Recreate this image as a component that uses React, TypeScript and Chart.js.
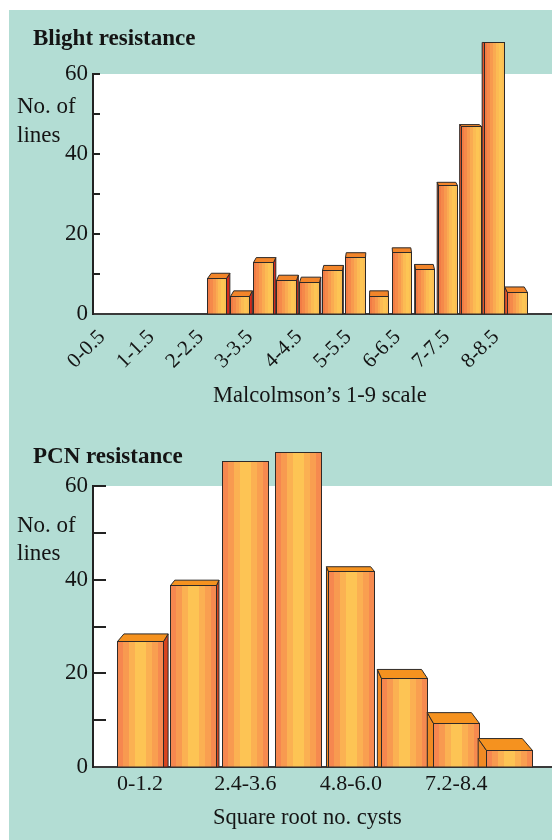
import React, { useEffect, useRef } from "react";
import { Chart, registerables } from "chart.js";

Chart.register(...registerables);

// ---------- data ----------
const blightCategories = [
  "0-0.5", "0.5-1", "1-1.5", "1.5-2", "2-2.5", "2.5-3", "3-3.5", "3.5-4", "4-4.5",
  "4.5-5", "5-5.5", "5.5-6", "6-6.5", "6.5-7", "7-7.5", "7.5-8", "8-8.5", "8.5-9",
];
const blightValues = [0, 0, 0, 0, 9, 4.5, 13, 8.5, 8, 11, 14.2, 4.5, 15.6, 11.2, 32.3, 47, 68, 5.6];
const blightTickLabels = ["0-0.5", "1-1.5", "2-2.5", "3-3.5", "4-4.5", "5-5.5", "6-6.5", "7-7.5", "8-8.5"];

const pcnCategories = ["0-1.2", "1.2-2.4", "2.4-3.6", "3.6-4.8", "4.8-6.0", "6.0-7.2", "7.2-8.4", "8.4-9.6"];
const pcnValues = [27, 38.8, 65.4, 67.3, 41.9, 19.1, 9.4, 3.6];
const pcnTickLabels = ["0-1.2", "", "2.4-3.6", "", "4.8-6.0", "", "7.2-8.4", ""];

const yTickValues = [0, 10, 20, 30, 40, 50, 60];
const yLabelValues = [0, 20, 40, 60];

const FONT = '"Liberation Serif", "Times New Roman", serif';
const INK = "#141414";

type Deco = {
  values: number[];
  title: string;
  titleY: number;
  ylab1Y: number;
  ylab2Y: number;
  xTitle: string;
  xTitleY: number;
  tickLen: number;
  vp: { x: number; y: number };
  k: number;
  stripes: string[];
  cap: string;
  sideRight: string;
  sideLeft: string;
};

function drawBar3D(ctx: CanvasRenderingContext2D, x: number, w: number, top: number, base: number, d: Deco) {
  const left = Math.round(x - w / 2) + 0.5;
  const right = Math.round(x + w / 2) + 0.5;
  const t = Math.round(top) + 0.5;
  const b = Math.round(base);
  const dxL = d.k * (d.vp.x - left);
  const dxR = d.k * (d.vp.x - right);
  const dyT = d.k * (d.vp.y - t);
  ctx.save();
  ctx.lineWidth = 1;
  ctx.strokeStyle = "#2e2a28";
  ctx.lineJoin = "miter";
  if (dxR > 0.6) {
    ctx.beginPath();
    ctx.moveTo(right, t);
    ctx.lineTo(right + dxR, t + dyT);
    ctx.lineTo(right + dxR, b);
    ctx.lineTo(right, b);
    ctx.closePath();
    ctx.fillStyle = d.sideRight;
    ctx.fill();
    ctx.stroke();
  }
  if (dxL < -0.6) {
    ctx.beginPath();
    ctx.moveTo(left, t);
    ctx.lineTo(left + dxL, t + dyT);
    ctx.lineTo(left + dxL, b);
    ctx.lineTo(left, b);
    ctx.closePath();
    ctx.fillStyle = d.sideLeft;
    ctx.fill();
    ctx.stroke();
  }
  if (dyT < -0.6) {
    ctx.beginPath();
    ctx.moveTo(left, t);
    ctx.lineTo(left + dxL, t + dyT);
    ctx.lineTo(right + dxR, t + dyT);
    ctx.lineTo(right, t);
    ctx.closePath();
    ctx.fillStyle = d.cap;
    ctx.fill();
    ctx.stroke();
  }
  const g = ctx.createLinearGradient(left, 0, right, 0);
  const n = d.stripes.length;
  d.stripes.forEach((c, i) => {
    g.addColorStop(i / n, c);
    g.addColorStop(Math.min(1, (i + 1) / n - 0.0001), c);
  });
  ctx.fillStyle = g;
  ctx.fillRect(left, t, right - left, b - t);
  ctx.strokeRect(left, t, right - left, b - t);
  ctx.restore();
}

function decoPlugin(d: Deco) {
  return {
    id: "deco",
    beforeDraw(chart: any) {
      const { ctx, chartArea: a } = chart;
      ctx.save();
      ctx.fillStyle = "#ffffff";
      ctx.fillRect(a.left, a.top, a.right - a.left, a.bottom - a.top);
      ctx.restore();
    },
    afterDatasetsDraw(chart: any) {
      const { ctx, chartArea: a } = chart;
      const ys = chart.scales.y;
      ctx.save();
      ctx.strokeStyle = "#222";
      ctx.lineWidth = 2;
      yTickValues.forEach((v) => {
        if (v === 0) return;
        const py = Math.round(ys.getPixelForValue(v));
        ctx.beginPath();
        ctx.moveTo(a.left, py);
        ctx.lineTo(a.left + d.tickLen, py);
        ctx.stroke();
      });
      ctx.restore();
      const meta = chart.getDatasetMeta(0);
      meta.data.forEach((el: any, i: number) => {
        if (!d.values[i]) return;
        const p = el.getProps(["x", "y", "base", "width"], true);
        drawBar3D(ctx, p.x, p.width, p.y, p.base, d);
      });
    },
    afterDraw(chart: any) {
      const ctx = chart.ctx;
      ctx.save();
      ctx.fillStyle = INK;
      ctx.textBaseline = "alphabetic";
      ctx.textAlign = "left";
      ctx.font = `bold 23px ${FONT}`;
      ctx.fillText(d.title, 25, d.titleY);
      ctx.font = `23px ${FONT}`;
      ctx.fillText("No. of", 9, d.ylab1Y);
      ctx.fillText("lines", 9, d.ylab2Y);
      ctx.font = `22.5px ${FONT}`;
      ctx.fillText(d.xTitle, 205, d.xTitleY);
      ctx.restore();
    },
  };
}

function yScale() {
  return {
    type: "linear",
    min: 0,
    max: 60,
    afterBuildTicks: (s: any) => {
      s.ticks = yTickValues.map((v) => ({ value: v }));
    },
    afterFit: (s: any) => {
      s.width = 85;
    },
    ticks: {
      autoSkip: false,
      padding: 5,
      color: INK,
      font: { family: FONT, size: 23 },
      callback: (v: number) => (yLabelValues.includes(v) ? String(v) : ""),
    },
    grid: { display: false, drawTicks: false },
    border: { display: true, color: "#222", width: 2 },
  };
}

function blightConfig(): any {
  const deco: Deco = {
    values: blightValues,
    title: "Blight resistance",
    titleY: 37,
    ylab1Y: 105,
    ylab2Y: 134,
    xTitle: "Malcolmson\u2019s 1-9 scale",
    xTitleY: 394,
    tickLen: 7,
    vp: { x: 371, y: 32 },
    k: 0.022,
    stripes: ["#f27c45", "#f5894a", "#f89a4e", "#faab51", "#fcbb53", "#fdc554", "#fcbf53"],
    cap: "#f2852a",
    sideRight: "#d32a1d",
    sideLeft: "#e2552a",
  };
  return {
    type: "bar",
    data: {
      labels: blightCategories,
      datasets: [
        {
          data: blightValues.map((v, i) => ({ x: i, y: v })),
          xAxisID: "x",
          yAxisID: "y",
          backgroundColor: "rgba(0,0,0,0)",
          borderWidth: 0,
          categoryPercentage: 1,
          barPercentage: 0.845,
        },
      ],
    },
    options: {
      responsive: false,
      animation: false,
      devicePixelRatio: 1,
      layout: { padding: { top: 66, right: 7, bottom: 0, left: 0 } },
      plugins: { legend: { display: false }, tooltip: { enabled: false } },
      scales: {
        x: {
          type: "linear",
          display: false,
          offset: false,
          min: -1.343,
          max: 18.557,
          afterBuildTicks: (s: any) => {
            s.ticks = blightCategories.map((_, i) => ({ value: i }));
          },
        },
        xl: {
          type: "linear",
          position: "bottom",
          offset: false,
          min: -0.183,
          max: 9.157,
          afterBuildTicks: (s: any) => {
            s.ticks = blightTickLabels.map((_, i) => ({ value: i }));
          },
          afterFit: (s: any) => {
            s.height = 110;
          },
          ticks: {
            autoSkip: false,
            minRotation: 45,
            maxRotation: 45,
            padding: 11,
            color: INK,
            font: { family: FONT, size: 21 },
            callback: (v: number) => blightTickLabels[v] ?? "",
          },
          grid: { display: false, drawTicks: false },
          border: { display: true, color: "#3a3a3a", width: 2 },
        },
        y: yScale(),
      },
    },
    plugins: [decoPlugin(deco)],
  };
}

function pcnConfig(): any {
  const deco: Deco = {
    values: pcnValues,
    title: "PCN resistance",
    titleY: 39,
    ylab1Y: 108,
    ylab2Y: 136,
    xTitle: "Square root no. cysts",
    xTitleY: 400,
    tickLen: 13,
    vp: { x: 270, y: 28 },
    k: 0.04,
    stripes: ["#f6874f", "#f89a50", "#fbb152", "#fdc454", "#fdc454", "#fbb052", "#f99f50", "#f68a4f"],
    cap: "#f5921f",
    sideRight: "#d8451f",
    sideLeft: "#f08a24",
  };
  return {
    type: "bar",
    data: {
      labels: pcnCategories,
      datasets: [
        {
          data: pcnValues.map((v, i) => ({ x: i, y: v })),
          xAxisID: "x",
          yAxisID: "y",
          backgroundColor: "rgba(0,0,0,0)",
          borderWidth: 0,
          categoryPercentage: 1,
          barPercentage: 0.873,
        },
      ],
    },
    options: {
      responsive: false,
      animation: false,
      devicePixelRatio: 1,
      layout: { padding: { top: 62, right: 7, bottom: 0, left: 0 } },
      plugins: { legend: { display: false }, tooltip: { enabled: false } },
      scales: {
        x: {
          type: "linear",
          position: "bottom",
          offset: false,
          min: -0.892,
          max: 7.835,
          afterBuildTicks: (s: any) => {
            s.ticks = pcnCategories.map((_, i) => ({ value: i }));
          },
          afterFit: (s: any) => {
            s.height = 73;
          },
          ticks: {
            autoSkip: false,
            maxRotation: 0,
            minRotation: 0,
            padding: 4,
            color: INK,
            font: { family: FONT, size: 22 },
            callback: (v: number) => pcnTickLabels[v] ?? "",
          },
          grid: { display: false, drawTicks: false },
          border: { display: true, color: "#3a3a3a", width: 2 },
        },
        y: yScale(),
      },
    },
    plugins: [decoPlugin(deco)],
  };
}

function ChartCanvas({ build }: { build: () => any }) {
  const ref = useRef<HTMLCanvasElement>(null);
  useEffect(() => {
    const chart = new Chart(ref.current as HTMLCanvasElement, build());
    return () => chart.destroy();
  }, []);
  return <canvas ref={ref} width={552} height={416} style={{ display: "block", width: 552, height: 416 }} />;
}

export default function App() {
  return (
    <div style={{ position: "relative", width: 552, height: 832 }}>
      <div style={{ position: "absolute", left: 1, top: 2, width: 551, height: 830, background: "#b3ddd4" }} />
      <div style={{ position: "absolute", left: 0, top: 0 }}>
        <ChartCanvas build={blightConfig} />
      </div>
      <div style={{ position: "absolute", left: 0, top: 416 }}>
        <ChartCanvas build={pcnConfig} />
      </div>
    </div>
  );
}
